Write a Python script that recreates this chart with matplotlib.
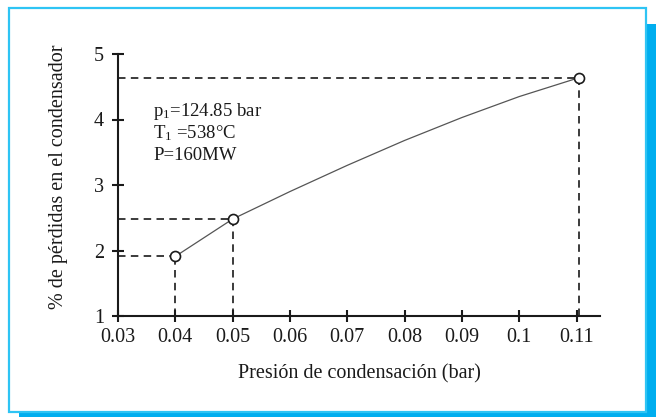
import matplotlib
matplotlib.use("Agg")
import matplotlib.pyplot as plt
from matplotlib.patches import Rectangle

# Condenser pressure (bar) vs. percentage of losses in the condenser
point_p = [0.04, 0.05, 0.1105]
point_loss = [1.91, 2.48, 4.64]

curve_p = [0.04, 0.05, 0.06, 0.07, 0.08, 0.09, 0.10, 0.1105]
curve_loss = [1.91, 2.48, 2.90, 3.30, 3.68, 4.03, 4.35, 4.64]

x_ticks = [0.03, 0.04, 0.05, 0.06, 0.07, 0.08, 0.09, 0.10, 0.11]
x_tick_labels = ["0.03", "0.04", "0.05", "0.06", "0.07", "0.08", "0.09", "0.1", "0.11"]
y_ticks = [1, 2, 3, 4, 5]
y_tick_labels = ["1", "2", "3", "4", "5"]

conditions = [r"p$_1$=124.85 bar", r"T$_1$ =538°C", "P=160MW"]

plt.rcParams["font.family"] = ["Liberation Serif", "DejaVu Serif"]
plt.rcParams["mathtext.fontset"] = "custom"
plt.rcParams["mathtext.rm"] = "Liberation Serif"
plt.rcParams["mathtext.it"] = "Liberation Serif"

W, H = 656, 417
fig = plt.figure(figsize=(W / 100, H / 100), dpi=100)
fig.patch.set_facecolor("white")

# framed panel with an offset shadow
fig.patches.append(Rectangle((19 / W, 0), (W - 19) / W, (H - 24) / H,
                             transform=fig.transFigure, facecolor="#00AEEF",
                             edgecolor="none", zorder=-3))
fig.patches.append(Rectangle((9 / W, 1 - 412 / H), (646 - 9) / W, (412 - 8) / H,
                             transform=fig.transFigure, facecolor="white",
                             edgecolor="#2EC4F4", linewidth=1.6, zorder=-2))

ax = fig.add_axes([118 / W, 1 - 316 / H, 482 / W, 262 / H])
ax.patch.set_visible(False)
ax.set_xlim(0.03, 0.1141)
ax.set_ylim(1, 5)

ink = "#1a1a1a"
fs = 14.5

# guide lines from each marked point to the axes
for p, l in zip(point_p, point_loss):
    ax.plot([0.03, p], [l, l], color=ink, lw=1.2, dashes=(4.5, 3.2), zorder=2, clip_on=False)
    ax.plot([p, p], [1, l], color=ink, lw=1.2, dashes=(4.5, 3.2), zorder=2, clip_on=False)

ax.plot(curve_p, curve_loss, color="#555555", lw=0.9, zorder=3)
ax.plot(point_p, point_loss, linestyle="none", marker="o", markersize=7.2,
        markerfacecolor="white", markeredgecolor=ink, markeredgewidth=1.2,
        zorder=4, clip_on=False)

for s in ["top", "right"]:
    ax.spines[s].set_visible(False)
for s in ["left", "bottom"]:
    ax.spines[s].set_linewidth(1.5)
    ax.spines[s].set_color(ink)

ax.set_xticks(x_ticks)
ax.set_xticklabels(x_tick_labels)
ax.set_yticks(y_ticks)
ax.set_yticklabels(y_tick_labels)
ax.tick_params(axis="both", direction="inout", length=8, width=1.5, color=ink,
               labelsize=fs, labelcolor=ink)
ax.tick_params(axis="x", pad=5)
ax.tick_params(axis="y", pad=6)

ax.set_xlabel("Presión de condensación (bar)", fontsize=fs, color=ink, labelpad=12)
ax.set_ylabel("% de pérdidas en el condensador", fontsize=fs, color=ink)
ax.yaxis.set_label_coords(-0.1037, 0.53)

# condition text, positioned in pixels from the top-left corner
for i, line in enumerate(conditions):
    fig.text(153 / W, 1 - (112 + 21.5 * i) / H, line, fontsize=13.5, color=ink,
             va="center", ha="left")

fig.savefig("out.png", dpi=100)
